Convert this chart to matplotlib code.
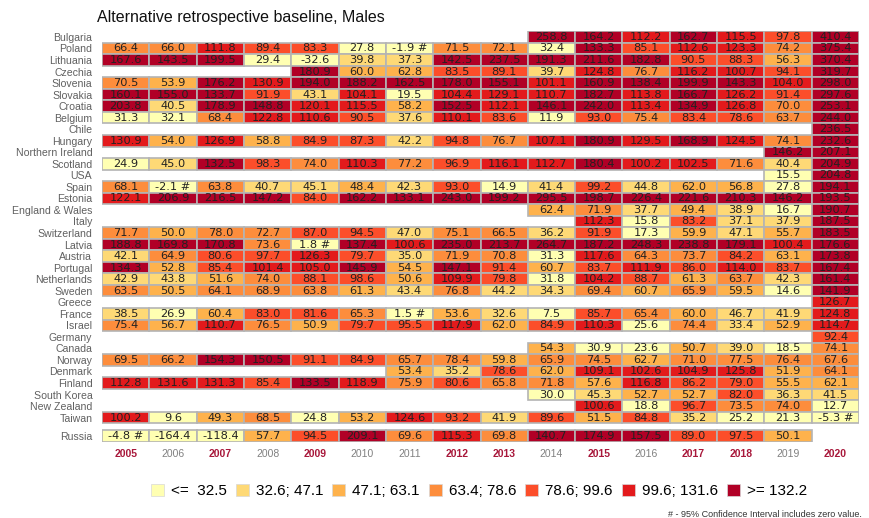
import numpy as np
import matplotlib
matplotlib.use("Agg")
import matplotlib.pyplot as plt
from matplotlib.colors import ListedColormap, BoundaryNorm
from matplotlib.patches import Patch

years = list(range(2005, 2021))
highlight_years = [2005, 2007, 2009, 2012, 2013, 2015, 2017, 2018, 2020]

N = None
bulgaria      = [N]*9 + [258.8, 164.2, 112.2, 162.7, 115.5, 97.8, 410.4]
poland        = [66.4, 66.0, 111.8, 89.4, 83.3, 27.8, -1.9, 71.5, 72.1, 32.4, 133.3, 85.1, 112.6, 123.3, 74.2, 375.4]
lithuania     = [167.6, 143.5, 199.5, 29.4, -32.6, 39.8, 37.3, 142.5, 237.5, 191.3, 211.6, 182.8, 90.5, 88.3, 56.3, 370.4]
czechia       = [N]*4 + [180.9, 60.0, 62.8, 83.5, 89.1, 39.7, 124.8, 76.7, 116.2, 100.7, 94.1, 319.7]
slovenia      = [70.5, 53.9, 176.2, 130.9, 194.0, 188.2, 162.5, 178.0, 155.1, 101.1, 160.9, 138.4, 199.9, 143.3, 104.0, 298.0]
slovakia      = [160.1, 155.0, 133.7, 91.9, 43.1, 104.1, 19.5, 104.4, 129.1, 110.7, 182.7, 113.8, 166.7, 126.2, 91.4, 297.6]
croatia       = [203.8, 40.5, 178.9, 148.8, 120.1, 115.5, 58.2, 152.5, 112.1, 146.1, 242.0, 113.4, 134.9, 126.8, 70.0, 253.1]
belgium       = [31.3, 32.1, 68.4, 122.8, 110.6, 90.5, 37.6, 110.1, 83.6, 11.9, 93.0, 75.4, 83.4, 78.6, 63.7, 244.0]
chile         = [N]*15 + [236.5]
hungary       = [130.9, 54.0, 126.9, 58.8, 84.9, 87.3, 42.2, 94.8, 76.7, 107.1, 180.9, 129.5, 168.9, 124.5, 74.1, 232.6]
n_ireland     = [N]*14 + [146.2, 207.1]
scotland      = [24.9, 45.0, 132.5, 98.3, 74.0, 110.3, 77.2, 96.9, 116.1, 112.7, 180.4, 100.2, 102.5, 71.6, 40.4, 204.9]
usa           = [N]*14 + [15.5, 204.8]
spain         = [68.1, -2.1, 63.8, 40.7, 45.1, 48.4, 42.3, 93.0, 14.9, 41.4, 99.2, 44.8, 62.0, 56.8, 27.8, 194.1]
estonia       = [122.1, 206.9, 216.5, 147.2, 84.0, 162.2, 133.1, 243.0, 199.2, 295.5, 198.7, 226.4, 221.6, 210.3, 146.2, 193.5]
eng_wales     = [N]*9 + [62.4, 71.9, 37.7, 49.4, 38.9, 16.7, 190.7]
italy         = [N]*10 + [112.3, 15.8, 83.2, 37.1, 37.9, 187.5]
switzerland   = [71.7, 50.0, 78.0, 72.7, 87.0, 94.5, 47.0, 75.1, 66.5, 36.2, 91.9, 17.3, 59.9, 47.1, 55.7, 183.5]
latvia        = [188.8, 169.8, 170.8, 73.6, 1.8, 137.4, 100.6, 235.0, 213.7, 264.7, 187.2, 248.3, 238.8, 179.1, 100.4, 176.6]
austria       = [42.1, 64.9, 80.6, 97.7, 126.3, 79.7, 35.0, 71.9, 70.8, 31.3, 117.6, 64.3, 73.7, 84.2, 63.1, 173.8]
portugal      = [134.3, 52.8, 85.4, 101.4, 105.0, 145.9, 54.5, 147.1, 91.4, 60.7, 83.7, 111.9, 86.0, 114.0, 83.7, 167.4]
netherlands   = [42.9, 43.8, 51.6, 74.0, 88.1, 98.6, 50.6, 109.9, 79.8, 31.8, 104.2, 88.7, 61.3, 63.7, 42.3, 161.4]
sweden        = [63.5, 50.5, 64.1, 68.9, 63.8, 61.3, 43.4, 76.8, 44.2, 34.3, 69.4, 60.7, 65.9, 59.5, 14.6, 141.9]
greece        = [N]*15 + [126.7]
france        = [38.5, 26.9, 60.4, 83.0, 81.6, 65.3, 1.5, 53.6, 32.6, 7.5, 85.7, 65.4, 60.0, 46.7, 41.9, 124.8]
israel        = [75.4, 56.7, 110.7, 76.5, 50.9, 79.7, 95.5, 117.9, 62.0, 84.9, 110.3, 25.6, 74.4, 33.4, 52.9, 114.7]
germany       = [N]*15 + [92.4]
canada        = [N]*9 + [54.3, 30.9, 23.6, 50.7, 39.0, 18.5, 74.1]
norway        = [69.5, 66.2, 154.3, 150.5, 91.1, 84.9, 65.7, 78.4, 59.8, 65.9, 74.5, 62.7, 71.0, 77.5, 76.4, 67.6]
denmark       = [N]*6 + [53.4, 35.2, 78.6, 62.0, 109.1, 102.6, 104.9, 125.8, 51.9, 64.1]
finland       = [112.8, 131.6, 131.3, 85.4, 133.5, 118.9, 75.9, 80.6, 65.8, 71.8, 57.6, 116.8, 86.2, 79.0, 55.5, 62.1]
south_korea   = [N]*9 + [30.0, 45.3, 52.7, 52.7, 82.0, 36.3, 41.5]
new_zealand   = [N]*10 + [100.6, 18.8, 96.7, 73.5, 74.0, 12.7]
taiwan        = [100.2, 9.6, 49.3, 68.5, 24.8, 53.2, 124.6, 93.2, 41.9, 89.6, 51.5, 84.8, 35.2, 25.2, 21.3, -5.3]
russia        = [-4.8, -164.4, -118.4, 57.7, 94.5, 209.1, 69.6, 115.3, 69.8, 140.7, 174.9, 157.5, 89.0, 97.5, 50.1, N]

countries = ["Bulgaria", "Poland", "Lithuania", "Czechia", "Slovenia", "Slovakia", "Croatia",
             "Belgium", "Chile", "Hungary", "Northern Ireland", "Scotland", "USA", "Spain",
             "Estonia", "England & Wales", "Italy", "Switzerland", "Latvia", "Austria",
             "Portugal", "Netherlands", "Sweden", "Greece", "France", "Israel", "Germany",
             "Canada", "Norway", "Denmark", "Finland", "South Korea", "New Zealand", "Taiwan",
             "Russia"]
series = [bulgaria, poland, lithuania, czechia, slovenia, slovakia, croatia, belgium, chile,
          hungary, n_ireland, scotland, usa, spain, estonia, eng_wales, italy, switzerland,
          latvia, austria, portugal, netherlands, sweden, greece, france, israel, germany,
          canada, norway, denmark, finland, south_korea, new_zealand, taiwan, russia]

# cells whose 95% CI includes zero
ci_zero = [("Poland", 2011), ("Spain", 2006), ("Latvia", 2009), ("France", 2011),
           ("Taiwan", 2020), ("Russia", 2005)]

bounds = [-1000, 32.55, 47.15, 63.25, 78.55, 99.6, 131.9, 1000]
colors = ["#ffffb2", "#fed976", "#feb24c", "#fd8d3c", "#fc4e2a", "#e31a1c", "#b10026"]
legend_labels = ["<=  32.5", "32.6; 47.1", "47.1; 63.1", "63.4; 78.6", "78.6; 99.6",
                 "99.6; 131.6", ">= 132.2"]

cmap = ListedColormap(colors)
norm = BoundaryNorm(bounds, cmap.N)

# rows: 34 main rows, a gap, then Russia
n_main = len(countries) - 1
gap = 0.6
row_pos = [float(i) for i in range(n_main)] + [n_main + gap]

fig = plt.figure(figsize=(8.69, 5.18), dpi=100)
ax = fig.add_axes([0.1174, 0.1471, 0.8711, 0.7927])

for i, (c, s) in enumerate(zip(countries, series)):
    cols = [j for j, v in enumerate(s) if v is not None]
    vals = [s[j] for j in cols]
    ax.barh([row_pos[i]] * len(cols), width=1.0, left=[j - 0.5 for j in cols], height=1.0,
            color=[cmap(norm(v)) for v in vals], edgecolor="#b4b4b4", linewidth=1.2)
    for j, v in zip(cols, vals):
        txt = f"{v:.1f}"
        if (c, years[j]) in ci_zero:
            txt += " #"
        ax.text(j, row_pos[i], txt, ha="center", va="center", fontsize=8.2,
                family="DejaVu Sans", color="#222222")

ax.set_xlim(-0.5, len(years) - 0.5)
ax.set_ylim(n_main + 0.5 + gap, -0.5)
ax.set_yticks(row_pos)
ax.set_yticklabels(countries, family="Liberation Sans", fontsize=7.6, color="#606060")
ax.set_xticks(range(len(years)))
ax.set_xticklabels([str(y) for y in years], family="Liberation Sans", fontsize=7.5)
for lab, y in zip(ax.get_xticklabels(), years):
    if y in highlight_years:
        lab.set_color("#a8173a")
        lab.set_fontweight("bold")
    else:
        lab.set_color("#808080")
ax.tick_params(axis="y", length=0, pad=7)
ax.tick_params(axis="x", length=0, pad=5)
for sp in ax.spines.values():
    sp.set_visible(False)

fig.text(0.1116, 0.9575, "Alternative retrospective baseline, Males", family="Liberation Sans",
         fontsize=11.5, color="#111111", va="baseline", ha="left")

handles = [Patch(facecolor=col, edgecolor="#d8d8d8", linewidth=0.5) for col in colors]
fig.legend(handles, legend_labels, loc="center", bbox_to_anchor=(0.551, 0.052), ncol=7,
           frameon=False, prop={"family": "Liberation Sans", "size": 11},
           handlelength=0.85, handleheight=0.85, handletextpad=0.45, columnspacing=0.6)

fig.text(0.992, 0.006, "# - 95% Confidence Interval includes zero value.", family="Liberation Sans",
         fontsize=6.5, color="#333333", ha="right", va="center")

fig.savefig("out.png", dpi=100)
